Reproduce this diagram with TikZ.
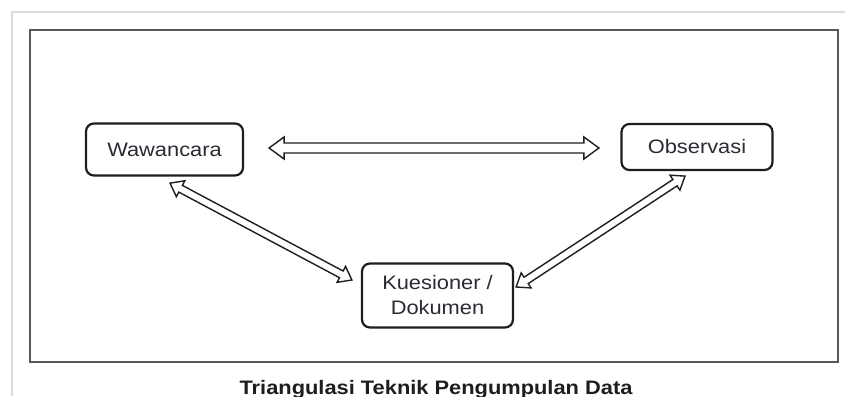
\documentclass[tikz,border=0pt]{standalone}
\usepackage{fontspec}
\setmainfont{Liberation Sans}[FakeStretch=1.12]
\usetikzlibrary{calc}
\definecolor{ink}{HTML}{1E1E1E}
\definecolor{txt}{HTML}{2B2B33}
\tikzset{
  box/.style={draw=ink, line width=2.2pt, rounded corners=8pt, fill=white, inner sep=0pt,
    align=center, text=txt, font=\fontsize{19.5}{25}\selectfont},
  arrowline/.style={draw=ink, line width=1.4pt, fill=white, line join=miter},
}
% hollow double-headed arrow: #1 start, #2 end, #3 head length, #4 head half width, #5 shaft half width
\newcommand\hollowarrow[5]{%
  \draw[arrowline] (#1)
    -- ($($(#1)!#3!(#2)$)!#4!90:(#2)$)
    -- ($($(#1)!#3!(#2)$)!#5!90:(#2)$)
    -- ($($(#2)!#3!(#1)$)!#5!-90:(#1)$)
    -- ($($(#2)!#3!(#1)$)!#4!-90:(#1)$)
    -- (#2)
    -- ($($(#2)!#3!(#1)$)!#4!90:(#1)$)
    -- ($($(#2)!#3!(#1)$)!#5!90:(#1)$)
    -- ($($(#1)!#3!(#2)$)!#5!-90:(#2)$)
    -- ($($(#1)!#3!(#2)$)!#4!-90:(#2)$)
    -- cycle;}
\begin{document}
\begin{tikzpicture}[x=1pt, y=-1pt]
\clip (0,0) rectangle (845,396);
\fill[white] (0,0) rectangle (845,396);
% page frame
\draw[black!14, line width=1.6pt] (12,396) -- (12,12) -- (845,12);
% inner frame
\draw[black!66, line width=1.6pt] (30,30) rectangle (838,362);
% boxes
\node[box, minimum width=157pt, minimum height=52pt] (w) at (164.5,149.5) {Wawancara};
\node[box, minimum width=151pt, minimum height=46pt] (o) at (697,147) {Observasi};
\node[box, minimum width=151pt, minimum height=64pt] (k) at (437.5,295.5) {Kuesioner /\\Dokumen};
% arrow end points
\coordinate (h1) at ([shift={(25,-1.5)}]w.east);
\coordinate (h2) at ([shift={(-21.5,1)}]o.west);
\coordinate (d1a) at ([shift={(5.5,6.5)}]w.south);
\coordinate (d1b) at ([shift={(-9,-15.5)}]k.west);
\coordinate (d2a) at ([shift={(2,-8.5)}]k.east);
\coordinate (d2b) at ([shift={(-12,5)}]o.south);
% arrows
\hollowarrow{h1}{h2}{15pt}{11pt}{5pt}
\hollowarrow{d1a}{d1b}{12pt}{9pt}{3.8pt}
\hollowarrow{d2a}{d2b}{12pt}{9pt}{3.8pt}
% caption
\node[anchor=base, inner sep=0pt, text=ink, font=\bfseries\fontsize{19.5}{22}\selectfont] (cap) at (436,394) {Triangulasi Teknik Pengumpulan Data};
\end{tikzpicture}
\end{document}
